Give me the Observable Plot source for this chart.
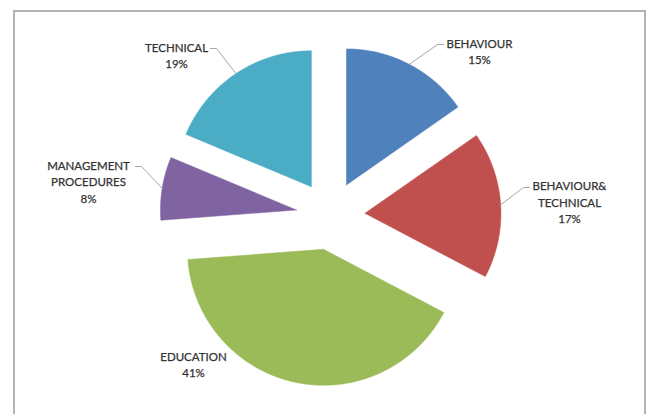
<!DOCTYPE html>
<html>
<head>
<meta charset="utf-8">
<script src="https://cdn.jsdelivr.net/npm/d3@7"></script>
<script src="https://cdn.jsdelivr.net/npm/@observablehq/plot@0.6"></script>
<style>
  html, body { margin: 0; padding: 0; background: #fff; }
  #wrap { position: relative; width: 652px; height: 414px; overflow: hidden; }
  #box { position: absolute; left: 13px; top: 10px; width: 633px; height: 420px;
         border: 2px solid #b4b4b4; border-bottom: none; box-sizing: border-box; }
  #chart { position: absolute; left: 0; top: 0; }
</style>
</head>
<body>
<div id="wrap"><div id="box"></div><div id="chart"></div></div>
<script>
// ---- data ----
const categories = ["BEHAVIOUR", "BEHAVIOUR& TECHNICAL", "EDUCATION", "MANAGEMENT PROCEDURES", "TECHNICAL"];
const labelLines = [["BEHAVIOUR"], ["BEHAVIOUR&", "TECHNICAL"], ["EDUCATION"], ["MANAGEMENT", "PROCEDURES"], ["TECHNICAL"]];
// shares; labels show them rounded
const values = [15.3, 17.4, 41.1, 7.5, 18.7];
const colors = ["#4F81BD", "#C0504D", "#9BBB59", "#8064A2", "#4BACC6"];

// ---- layout (pixels) ----
const W = 652, H = 414;
const CX = 330, CY = 215, R = 136, EXPLODE = 34.5;
const labelPos = [[479, 50], [569, 201], [193, 363], [88, 180.5], [176, 54]];
const leaderEnd = [[443, 44], [529, 187], null, [135, 166], [210, 48]];
const leaderKnee = [[437, 44], [523, 187], null, [141, 166], [216, 48]];

const pie = d3.pie().sort(null).value(d => d)(values);
const pt = (cx, cy, r, a) => [cx + r * Math.sin(a), cy - r * Math.cos(a)];

const sliceRows = [];
const leaderRows = [];
pie.forEach((p, i) => {
  const mid = (p.startAngle + p.endAngle) / 2;
  const [ax, ay] = pt(CX, CY, EXPLODE, mid);
  const cat = categories[i];
  sliceRows.push({cat, x: ax, y: ay});
  const n = Math.max(2, Math.ceil((p.endAngle - p.startAngle) / (Math.PI / 360)));
  for (let k = 0; k <= n; k++) {
    const a = p.startAngle + (p.endAngle - p.startAngle) * k / n;
    const [x, y] = pt(ax, ay, R, a);
    sliceRows.push({cat, x, y});
  }
  sliceRows.push({cat, x: ax, y: ay});
  if (leaderEnd[i]) {
    const [ox, oy] = pt(ax, ay, R, mid);
    leaderRows.push({cat, x: ox, y: oy});
    leaderRows.push({cat, x: leaderKnee[i][0], y: leaderKnee[i][1]});
    leaderRows.push({cat, x: leaderEnd[i][0], y: leaderEnd[i][1]});
  }
});

const labelRows = categories.map((c, i) => ({
  cat: c,
  x: labelPos[i][0],
  y: labelPos[i][1],
  text: labelLines[i].join("\n") + "\n" + Math.round(values[i]) + "%"
}));

const chart = Plot.plot({
  width: W,
  height: H,
  margin: 0,
  x: {domain: [0, W], range: [0, W], axis: null},
  y: {domain: [0, H], range: [0, H], axis: null},
  color: {domain: categories, range: colors},
  style: {background: "transparent", fontFamily: "Lato, 'Open Sans', sans-serif"},
  marks: [
    Plot.line(sliceRows, {x: "x", y: "y", z: "cat", fill: "cat", stroke: "cat", strokeWidth: 0.5, curve: "linear"}),
    Plot.line(leaderRows, {x: "x", y: "y", z: "cat", stroke: "#a6a6a6", strokeWidth: 1}),
    Plot.text(labelRows, {x: "x", y: "y", text: "text", fontSize: 11.5, lineHeight: 1.435, fill: "#333333", stroke: "#333333", strokeWidth: 0.25, textAnchor: "middle"})
  ]
});
document.getElementById("chart").appendChild(chart);
</script>
</body>
</html>
